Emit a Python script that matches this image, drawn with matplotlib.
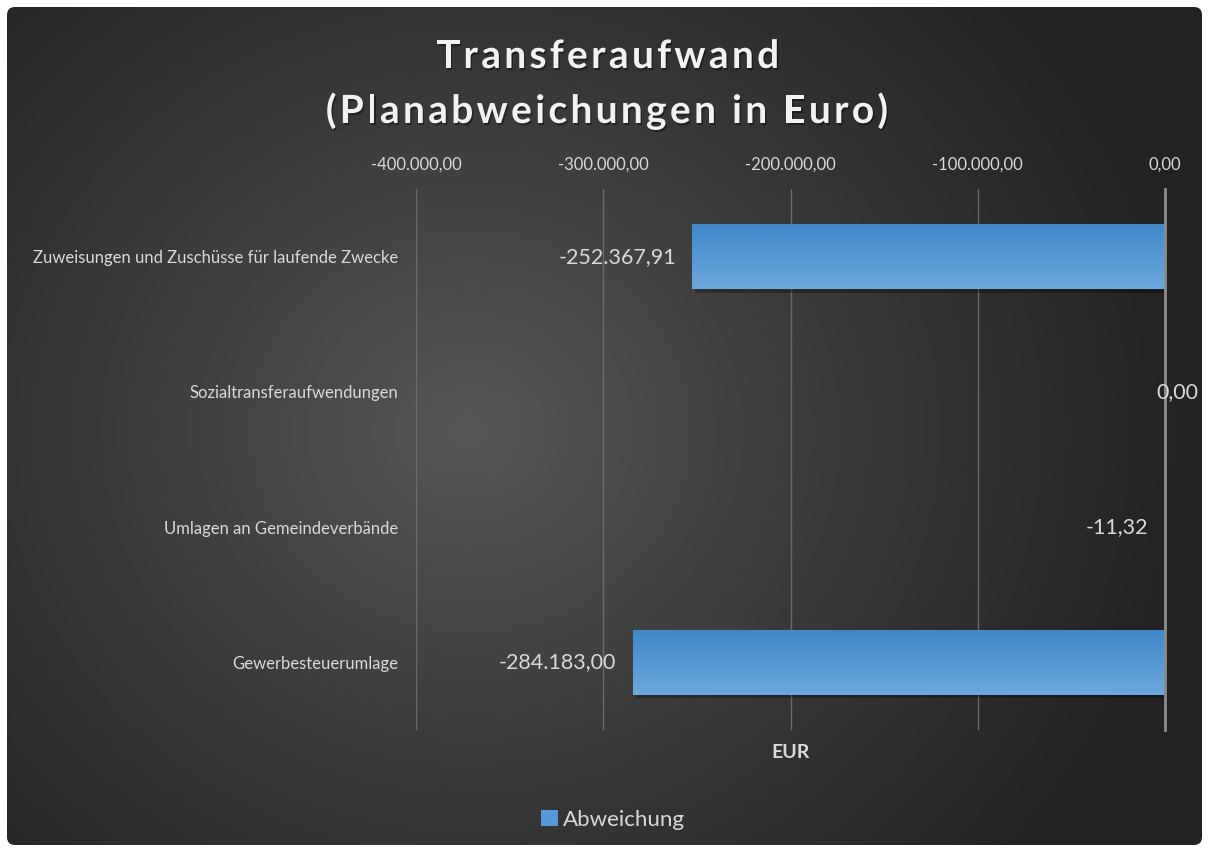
import numpy as np
import matplotlib
matplotlib.use("Agg")
import matplotlib.pyplot as plt
from matplotlib.patches import FancyBboxPatch, Patch
from matplotlib.ticker import FuncFormatter
import matplotlib.patheffects as pe

# data
categories = [
    "Zuweisungen und Zuschüsse für laufende Zwecke",
    "Sozialtransferaufwendungen",
    "Umlagen an Gemeindeverbände",
    "Gewerbesteuerumlage",
]
abweichung = [-252367.91, 0.0, -11.32, -284183.00]
x_ticks = [-400000, -300000, -200000, -100000, 0]

title_lines = ["Transferaufwand", "(Planabweichungen in Euro)"]
x_label = "EUR"
series_name = "Abweichung"

FONT = "Lato"
TXT = "#d9d9d9"


def de_fmt(v, pos=None):
    s = f"{v:,.2f}"
    return s.replace(",", "X").replace(".", ",").replace("X", ".")


W, H = 1209, 851
fig = plt.figure(figsize=(W / 100, H / 100), dpi=100)
fig.patch.set_facecolor("white")
renderer = fig.canvas.get_renderer()

# background with radial gradient, rounded frame
bg = fig.add_axes([0, 0, 1, 1], zorder=-10)
bg.set_xlim(0, W)
bg.set_ylim(H, 0)
bg.axis("off")
yy, xx = np.mgrid[0:H, 0:W]
r = np.sqrt((xx - 470) ** 2 + ((yy - 430) * 1.1) ** 2)
t = np.clip(r / 720, 0, 1) ** 0.9
lo, hi = 0x57 / 255, 0x22 / 255
grey = lo + (hi - lo) * t
img = np.dstack([grey, grey, grey])
frame = FancyBboxPatch((7, 7), W - 14, H - 13, boxstyle="round,pad=0,rounding_size=8",
                       transform=bg.transData, facecolor="none", edgecolor="none")
bg.add_patch(frame)
im = bg.imshow(img, extent=(0, W, H, 0), interpolation="bilinear")
im.set_clip_path(frame)

# main axes
left, right, top, bottom = 416, 1165, 189, 730
ax = fig.add_axes([left / W, 1 - bottom / H, (right - left) / W, (bottom - top) / H])
ax.set_facecolor("none")
ypos = np.arange(len(categories))
bars = ax.barh(ypos, abweichung, height=0.48, color="#4f94d4", zorder=3,
               path_effects=[pe.withSimplePatchShadow(offset=(2, -2.5), shadow_rgbFace="black", alpha=0.28)])

# vertical gradient on each bar
grad = np.linspace(0, 1, 64).reshape(-1, 1)
c_top = np.array([0x40, 0x88, 0xc8]) / 255
c_bot = np.array([0x6c, 0xa8, 0xde]) / 255
gimg = c_top + (c_bot - c_top) * grad[:, :, None]
for b in bars:
    x0, w = b.get_x(), b.get_width()
    y0, h = b.get_y(), b.get_height()
    if w == 0:
        continue
    gi = ax.imshow(gimg, extent=(min(x0, x0 + w), max(x0, x0 + w), y0 + h, y0),
                   aspect="auto", zorder=4, interpolation="bilinear")
    gi.set_clip_path(b)
ax.set_xlim(-400000, 0)
ax.set_ylim(len(categories) - 0.5, -0.5)

# axes styling
ax.xaxis.tick_top()
ax.set_xticks(x_ticks)
ax.xaxis.set_major_formatter(FuncFormatter(de_fmt))
ax.set_yticks(ypos)
ax.set_yticklabels(categories)
ax.tick_params(axis="x", length=0, pad=12, labelsize=12, labelcolor=TXT)
ax.tick_params(axis="y", length=0, pad=13, labelsize=12, labelcolor=TXT)
for lab in ax.get_xticklabels() + ax.get_yticklabels():
    lab.set_fontfamily(FONT)
ax.grid(axis="x", color="#6a6a6a", linewidth=1, zorder=1)
for s in ["top", "bottom", "left"]:
    ax.spines[s].set_visible(False)
ax.spines["right"].set_visible(True)
ax.spines["right"].set_color("#8c8c8c")
ax.spines["right"].set_linewidth(2)
ax.spines["right"].set_zorder(5)

# data labels
for yp, v in zip(ypos, abweichung):
    if v == 0:
        ax.annotate(de_fmt(v), (v, yp), xytext=(-6, 0), textcoords="offset points",
                    ha="left", va="center", fontsize=15.5, color=TXT, family=FONT, zorder=6)
    else:
        ax.annotate(de_fmt(v), (v, yp), xytext=(-12, 0), textcoords="offset points",
                    ha="right", va="center", fontsize=15.5, color=TXT, family=FONT, zorder=6)


# letter-spaced title
def ink_width(s, **kw):
    tt = fig.text(0, 0, s, **kw)
    wd = tt.get_window_extent(renderer).width
    tt.remove()
    return wd


def spaced_text(s, xc_px, base_px, spacing, **kw):
    bar_w = ink_width("|", **kw)
    offs = [0.0] + [ink_width(s[:i] + "|", **kw) - bar_w for i in range(1, len(s))]
    total = ink_width(s, **kw) + spacing * (len(s) - 1)
    x0 = xc_px - total / 2
    for i, ch in enumerate(s):
        if ch == " ":
            continue
        fig.text((x0 + offs[i] + i * spacing) / W, 1 - base_px / H, ch, ha="left",
                 va="baseline", **kw)


tkw = dict(fontsize=28, fontweight="bold", family=FONT, color="#f2f2f2",
           path_effects=[pe.withSimplePatchShadow(offset=(1, -1.5), shadow_rgbFace="black", alpha=0.4)])
spaced_text(title_lines[0], 608, 68, 3.3, **tkw)
spaced_text(title_lines[1], 607, 123, 3.3, **tkw)

fig.text((left + right) / 2 / W, 1 - 752 / H, x_label, ha="center", va="center",
         fontsize=14, fontweight="bold", family=FONT, color=TXT)
leg = fig.legend(handles=[Patch(facecolor="#5599d8", label=series_name)],
                 loc="center", bbox_to_anchor=(613 / W, 1 - 820 / H), frameon=False,
                 handlelength=0.75, handleheight=0.75, handletextpad=0.2,
                 prop={"family": FONT, "size": 16})
for txt in leg.get_texts():
    txt.set_color(TXT)

fig.savefig("out.png", dpi=100, facecolor=fig.get_facecolor())
